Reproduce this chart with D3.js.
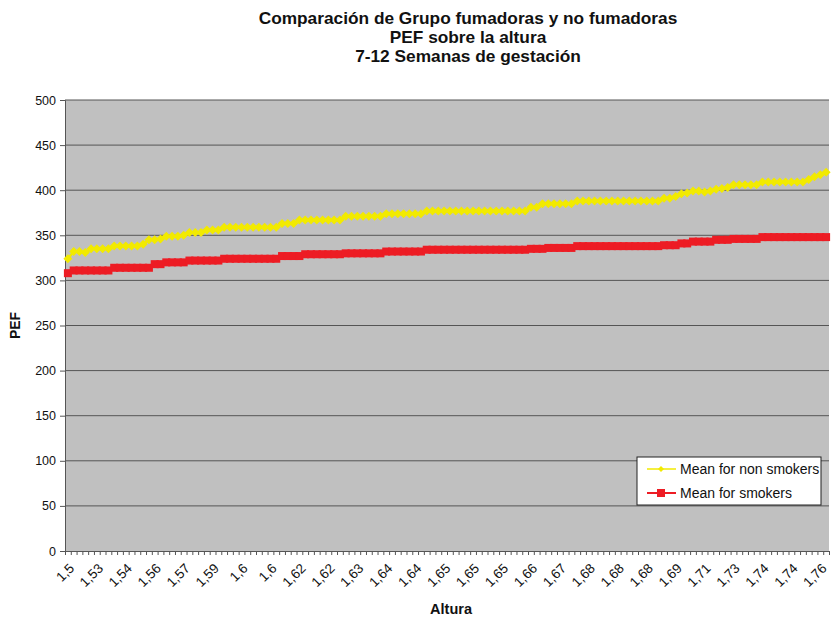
<!DOCTYPE html>
<html>
<head>
<meta charset="utf-8">
<script src="https://cdn.jsdelivr.net/npm/d3@7"></script>
<style>
  body { margin: 0; background: #fff; }
  text { font-family: "Liberation Sans", Arial, sans-serif; }
</style>
</head>
<body>
<div id="chart"></div>
<script>
// heights (Altura), one per category
var heights = [
  '1,5','1,5','1,51','1,52','1,52',
  '1,53','1,53','1,53','1,54','1,54',
  '1,54','1,55','1,55','1,55','1,56',
  '1,56','1,56','1,56','1,57','1,57',
  '1,57','1,58','1,58','1,58','1,59',
  '1,59','1,59','1,6','1,6','1,6',
  '1,6','1,6','1,6','1,6','1,6',
  '1,6','1,61','1,61','1,61','1,62',
  '1,62','1,62','1,62','1,62','1,62',
  '1,62','1,62','1,63','1,63','1,63',
  '1,63','1,63','1,63','1,64','1,64',
  '1,64','1,64','1,64','1,64','1,64',
  '1,64','1,65','1,65','1,65','1,65',
  '1,65','1,65','1,65','1,65','1,65',
  '1,65','1,65','1,65','1,65','1,65',
  '1,65','1,65','1,66','1,66','1,66',
  '1,66','1,66','1,66','1,67','1,67',
  '1,67','1,67','1,67','1,68','1,68',
  '1,68','1,68','1,68','1,68','1,68',
  '1,68','1,68','1,68','1,68','1,68',
  '1,68','1,68','1,69','1,69','1,69',
  '1,69','1,7','1,7','1,7','1,71',
  '1,71','1,72','1,72','1,72','1,73',
  '1,73','1,73','1,74','1,74','1,74',
  '1,74','1,74','1,74','1,74','1,74',
  '1,74','1,75','1,75','1,75','1,76',
  '1,76','1,77'
];

var nonSmokers = [
  324,332,332,331,335, 335,335,335,338,338,
  338,338,338,340,345, 345,346,349,349,349,
  350,353,353,353,356, 356,356,359,359,359,
  359,359,359,359,359, 359,359,363,363,363,
  367,367,367,367,367, 367,367,367,371,371,
  371,371,371,371,371, 374,374,374,374,374,
  374,374,377,377,377, 377,377,377,377,377,
  377,377,377,377,377, 377,377,377,377,377,
  381,381,385,385,385, 385,385,385,388,388,
  388,388,388,388,388, 388,388,388,388,388,
  388,388,388,391,391, 393,396,397,399,399,
  398,399,401,402,403, 406,406,406,406,406,
  409,409,409,409,409, 409,409,409,412,415,
  417,420
];

var smokers = [
  308,311,311,311,311, 311,311,311,314,314,
  314,314,314,314,314, 318,318,320,320,320,
  320,322,322,322,322, 322,322,324,324,324,
  324,324,324,324,324, 324,324,327,327,327,
  327,329,329,329,329, 329,329,329,330,330,
  330,330,330,330,330, 332,332,332,332,332,
  332,332,334,334,334, 334,334,334,334,334,
  334,334,334,334,334, 334,334,334,334,334,
  335,335,335,336,336, 336,336,336,338,338,
  338,338,338,338,338, 338,338,338,338,338,
  338,338,338,339,339, 339,341,341,343,343,
  343,343,345,345,345, 346,346,346,346,346,
  348,348,348,348,348, 348,348,348,348,348,
  348,348
];

var yTicks = [0, 50, 100, 150, 200, 250, 300, 350, 400, 450, 500];
var labelEvery = 5;

var seriesNames = ['Mean for non smokers', 'Mean for smokers'];
var titleLines = ['Comparación de Grupo fumadoras y no fumadoras', 'PEF sobre la altura', '7-12 Semanas de gestación'];

var W = 831, H = 620;
var margin = { top: 100, right: 2, bottom: 69, left: 65 };
var width = W - margin.left - margin.right;
var height = H - margin.top - margin.bottom;
var yellow = '#f2ea00';
var red = '#ed1c24';

var svg = d3.select('#chart').append('svg')
  .attr('width', W)
  .attr('height', H);

var idx = d3.range(heights.length);

var x = d3.scaleBand()
  .domain(idx)
  .range([0, width])
  .padding(0);
var xEdge = d3.scaleLinear()
  .domain([0, heights.length])
  .range([0, width]);
var y = d3.scaleLinear()
  .domain([0, 500])
  .range([height, 0]);

var g = svg.append('g')
  .attr('transform', 'translate(' + margin.left + ',' + margin.top + ')');

g.append('rect')
  .attr('width', width)
  .attr('height', height)
  .attr('fill', '#c0c0c0');

// gridlines
g.selectAll('line.grid')
    .data(yTicks.filter(function(d) { return d > 0; }))
  .enter().append('line')
    .attr('class', 'grid')
    .attr('x1', 0)
    .attr('x2', width)
    .attr('y1', function(d) { return y(d); })
    .attr('y2', function(d) { return y(d); })
    .attr('stroke', '#555')
    .attr('stroke-width', 1);

// y axis
var yAxis = g.append('g')
  .call(d3.axisLeft(y).tickValues(yTicks).tickSize(5).tickPadding(4));
yAxis.select('.domain').attr('stroke', '#555');
yAxis.selectAll('.tick line').attr('stroke', '#555');
yAxis.selectAll('text')
  .attr('font-size', '12.5px')
  .attr('fill', '#111');

// x axis: minor ticks at category edges
var xMinor = g.append('g')
  .attr('transform', 'translate(0,' + height + ')')
  .call(d3.axisBottom(xEdge).tickValues(d3.range(heights.length + 1)).tickSize(4).tickFormat(''));
xMinor.select('.domain').attr('stroke', '#555');
xMinor.selectAll('.tick line').attr('stroke', '#555');

// x axis labels
var xAxis = g.append('g')
  .attr('transform', 'translate(0,' + height + ')')
  .call(d3.axisBottom(x)
    .tickValues(idx.filter(function(i) { return i % labelEvery === 0; }))
    .tickSize(0)
    .tickFormat(function(i) { return heights[i]; }));
xAxis.select('.domain').remove();
xAxis.selectAll('text')
  .attr('font-size', '13.5px')
  .attr('fill', '#111')
  .attr('text-anchor', 'end')
  .attr('dy', null)
  .attr('transform', 'translate(5,16) rotate(-45)');

var cx = function(d, i) { return x(i) + x.bandwidth() / 2; };

var line = d3.line()
  .x(function(d, i) { return x(i) + x.bandwidth() / 2; })
  .y(function(d) { return y(d); });

// smokers
g.append('path')
  .datum(smokers)
  .attr('d', line)
  .attr('fill', 'none')
  .attr('stroke', red)
  .attr('stroke-width', 3);
g.selectAll('rect.sm')
    .data(smokers)
  .enter().append('rect')
    .attr('class', 'sm')
    .attr('x', function(d, i) { return cx(d, i) - 4; })
    .attr('y', function(d) { return y(d) - 4; })
    .attr('width', 8)
    .attr('height', 8)
    .attr('fill', red);

// non smokers
var diamond = 'M0,-4.5L4.5,0L0,4.5L-4.5,0Z';
g.append('path')
  .datum(nonSmokers)
  .attr('d', line)
  .attr('fill', 'none')
  .attr('stroke', yellow)
  .attr('stroke-width', 2.5);
g.selectAll('path.ns')
    .data(nonSmokers)
  .enter().append('path')
    .attr('class', 'ns')
    .attr('d', diamond)
    .attr('transform', function(d, i) { return 'translate(' + cx(d, i) + ',' + y(d) + ')'; })
    .attr('fill', yellow);

// legend
var legend = svg.append('g')
  .attr('transform', 'translate(637,457)');
legend.append('rect')
  .attr('width', 184)
  .attr('height', 48)
  .attr('fill', '#fff')
  .attr('stroke', '#222')
  .attr('stroke-width', 1);
var items = [
  { name: seriesNames[0], color: yellow, shape: 'diamond' },
  { name: seriesNames[1], color: red, shape: 'square' }
];
items.forEach(function(it, i) {
  var ly = 12 + i * 24;
  legend.append('line')
    .attr('x1', 10).attr('x2', 39)
    .attr('y1', ly).attr('y2', ly)
    .attr('stroke', it.color)
    .attr('stroke-width', it.shape === 'square' ? 2 : 1.5);
  if(it.shape === 'square') {
    legend.append('rect')
      .attr('x', 20).attr('y', ly - 4)
      .attr('width', 8).attr('height', 8)
      .attr('fill', it.color);
  } else {
    legend.append('path')
      .attr('d', 'M0,-3L3,0L0,3L-3,0Z')
      .attr('transform', 'translate(24,' + ly + ')')
      .attr('fill', it.color);
  }
  legend.append('text')
    .attr('x', 43)
    .attr('y', ly + 5)
    .attr('font-size', '14px')
    .attr('fill', '#111')
    .text(it.name);
});

// titles
svg.selectAll('text.title')
    .data(titleLines)
  .enter().append('text')
    .attr('class', 'title')
    .attr('x', 468)
    .attr('y', function(d, i) { return 24 + i * 19; })
    .attr('text-anchor', 'middle')
    .attr('font-size', '17.3px')
    .attr('font-weight', 'bold')
    .attr('fill', '#111')
    .text(function(d) { return d; });

svg.append('text')
  .attr('transform', 'translate(20,' + (margin.top + height / 2) + ') rotate(-90)')
  .attr('text-anchor', 'middle')
  .attr('font-size', '14px')
  .attr('font-weight', 'bold')
  .attr('fill', '#111')
  .text('PEF');

svg.append('text')
  .attr('x', 451)
  .attr('y', 614)
  .attr('text-anchor', 'middle')
  .attr('font-size', '14.5px')
  .attr('font-weight', 'bold')
  .attr('fill', '#111')
  .text('Altura');
</script>
</body>
</html>
